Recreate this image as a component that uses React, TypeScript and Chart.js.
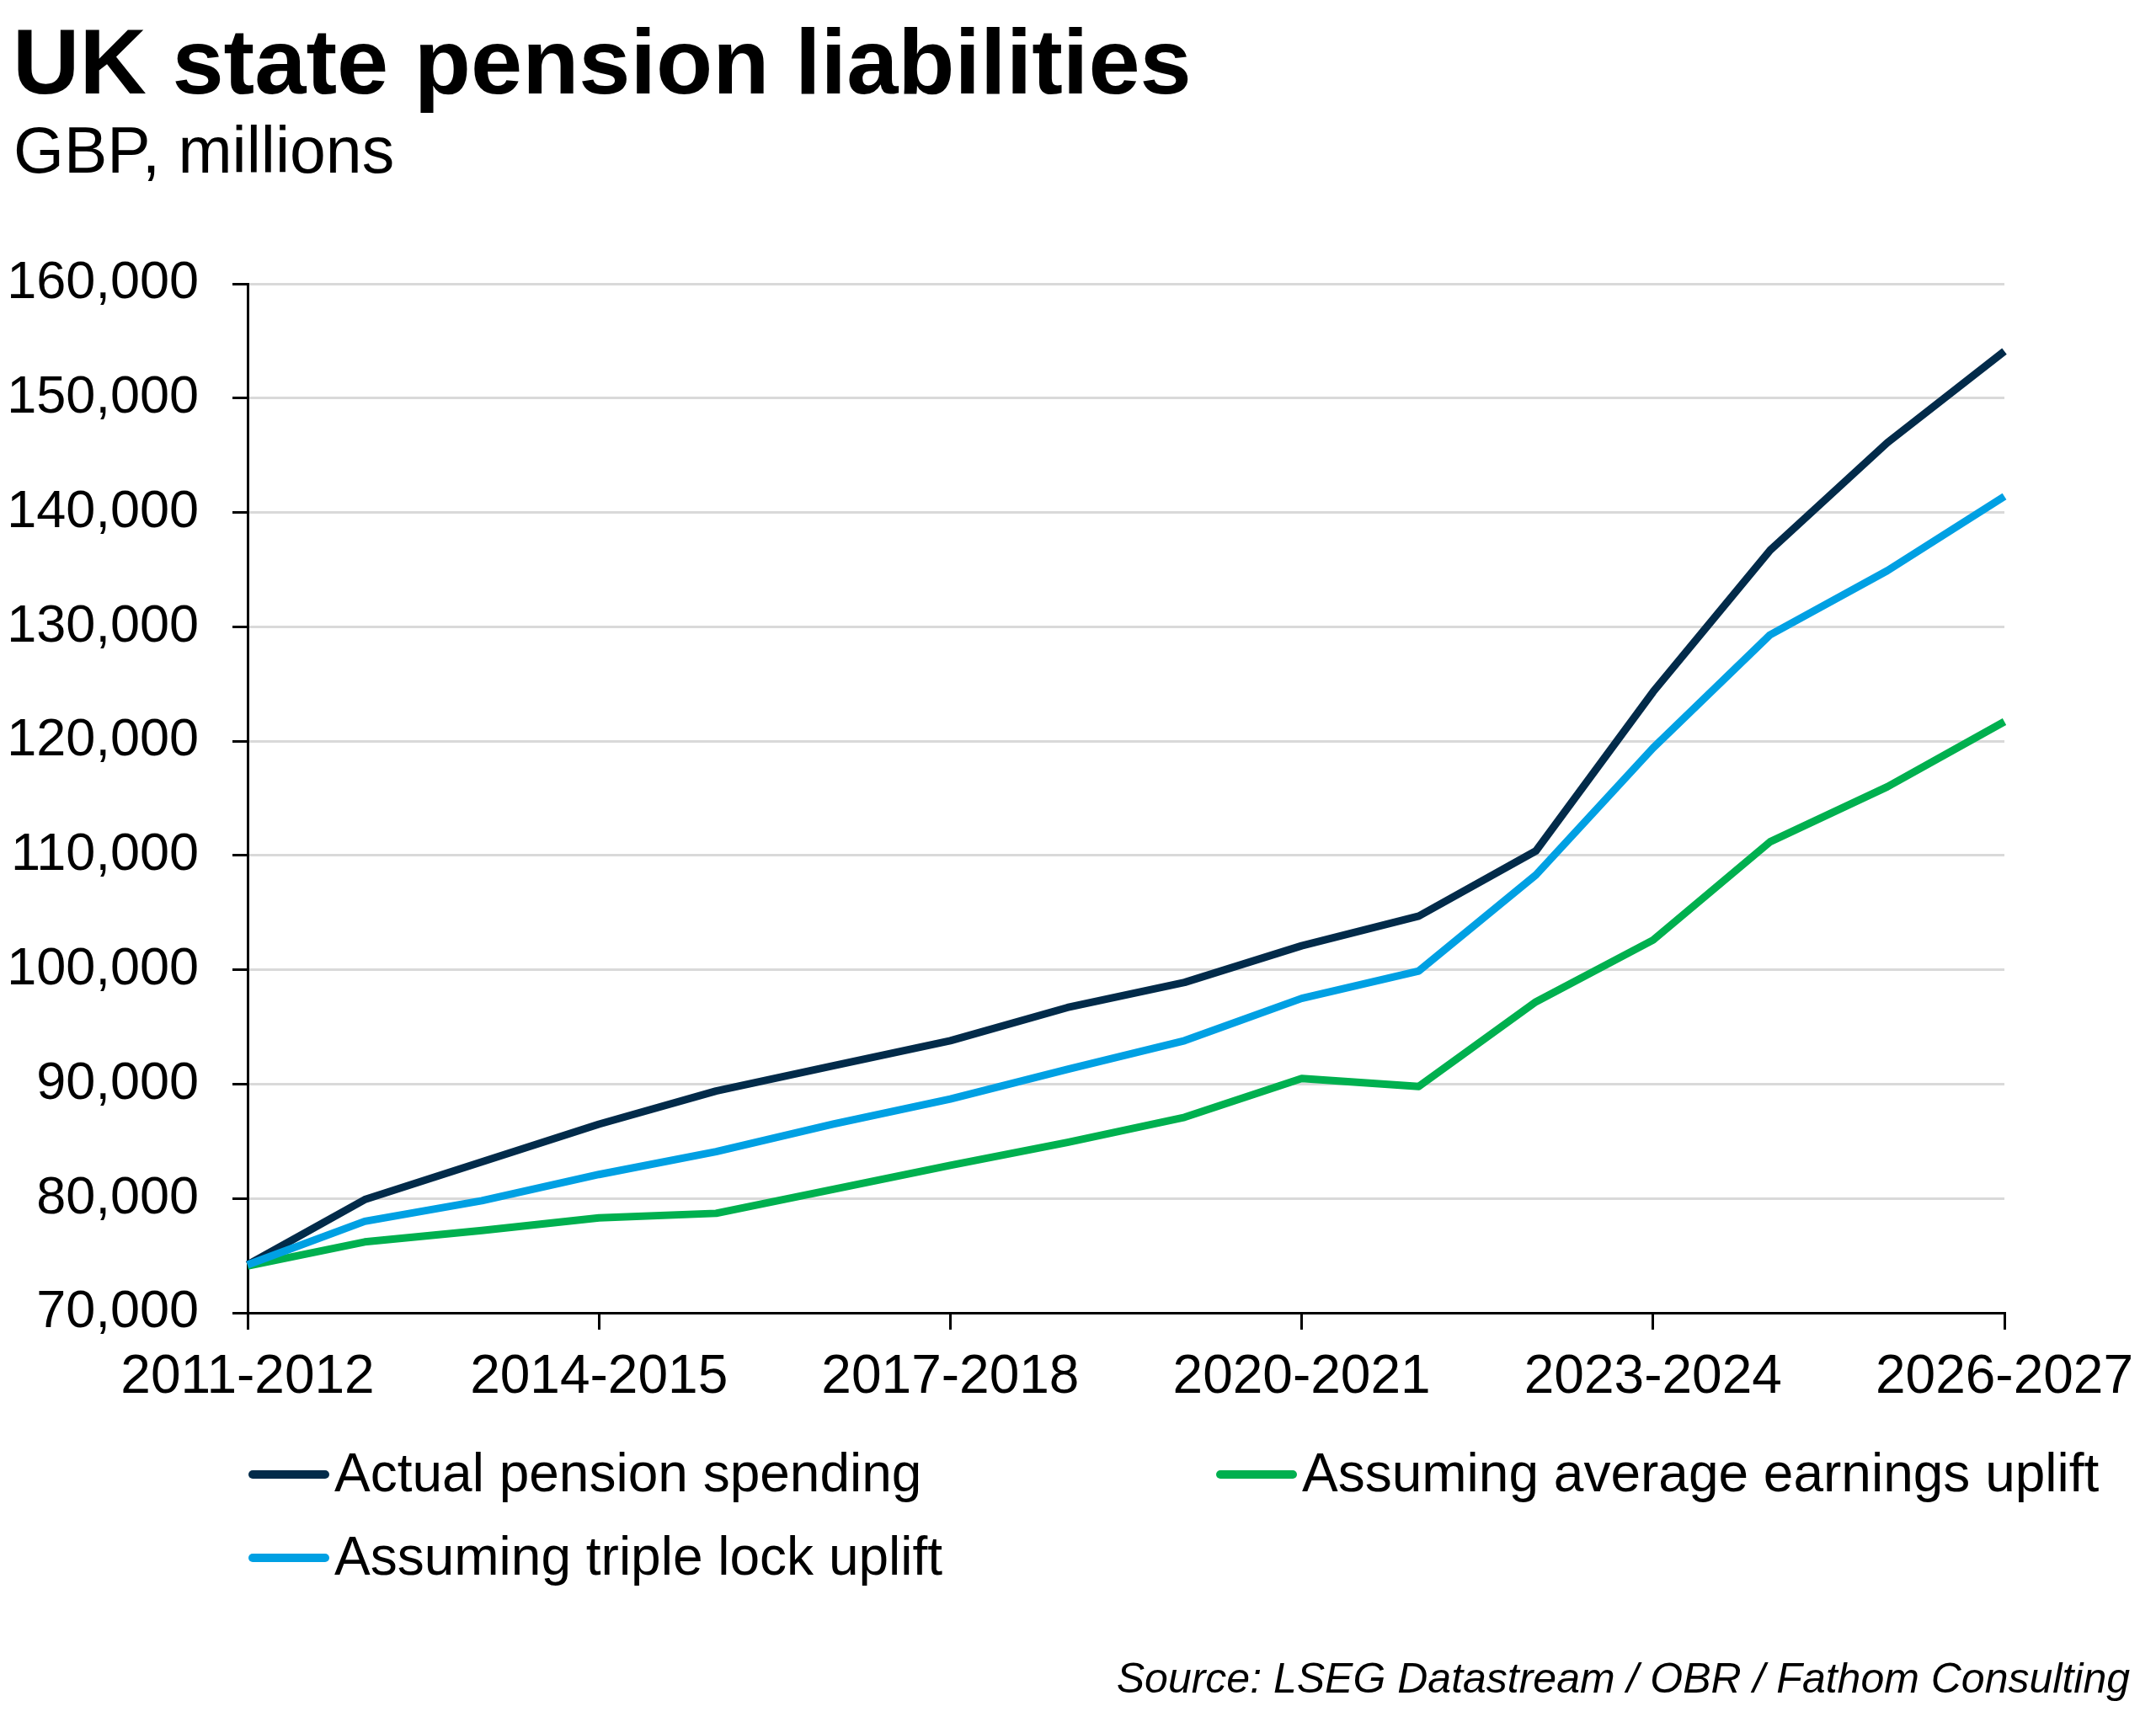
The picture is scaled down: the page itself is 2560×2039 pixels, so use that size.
import React, { useEffect, useRef } from 'react';
import { Chart, registerables } from 'chart.js';

Chart.register(...registerables);

const categories = [
  '2011-2012', '2012-2013', '2013-2014', '2014-2015', '2015-2016', '2016-2017',
  '2017-2018', '2018-2019', '2019-2020', '2020-2021', '2021-2022', '2022-2023',
  '2023-2024', '2024-2025', '2025-2026', '2026-2027',
];

const actualSpending = [
  74200, 79900, 83200, 86500, 89400, 91600, 93800, 96700,
  98900, 102100, 104700, 110400, 124300, 136700, 146100, 154100,
];

const tripleLockUplift = [
  74200, 78000, 79800, 82100, 84100, 86500, 88700, 91300,
  93800, 97500, 99900, 108300, 119400, 129300, 134900, 141400,
];

const averageEarningsUplift = [
  74100, 76200, 77200, 78300, 78700, 80800, 82900, 84900,
  87100, 90500, 89800, 97200, 102600, 111200, 116000, 121700,
];

const yMin = 70000;
const yMax = 160000;
const yStep = 10000;
const labelEvery = 3;

const seriesNames = {
  actual: 'Actual pension spending',
  earnings: 'Assuming average earnings uplift',
  triple: 'Assuming triple lock uplift',
};

const COLORS = {
  actual: '#022b4a',
  earnings: '#00b04f',
  triple: '#00a0e3',
};

const FONT = '"Liberation Sans", Arial, Helvetica, sans-serif';

function LegendItem({ color, label, left, baseline }: { color: string; label: string; left: number; baseline: number }) {
  const fs = 64;
  return (
    <>
      <div
        style={{
          position: 'absolute',
          left,
          top: baseline - 20 - 5,
          width: 96,
          height: 10,
          borderRadius: 5,
          background: color,
        }}
      />
      <div
        style={{
          position: 'absolute',
          left: left + 102,
          top: baseline - Math.round(0.8465 * fs),
          fontFamily: FONT,
          fontSize: fs,
          lineHeight: `${fs}px`,
          color: '#000',
          whiteSpace: 'nowrap',
        }}
      >
        {label}
      </div>
    </>
  );
}

export default function App() {
  const canvasRef = useRef<HTMLCanvasElement>(null);

  useEffect(() => {
    document.body.style.margin = '0';
    const canvas = canvasRef.current;
    if (!canvas) return;
    const chart = new Chart(canvas, {
      type: 'line',
      data: {
        labels: categories,
        datasets: [
          {
            label: seriesNames.triple,
            data: tripleLockUplift,
            borderColor: COLORS.triple,
            backgroundColor: COLORS.triple,
          },
          {
            label: seriesNames.earnings,
            data: averageEarningsUplift,
            borderColor: COLORS.earnings,
            backgroundColor: COLORS.earnings,
          },
          {
            label: seriesNames.actual,
            data: actualSpending,
            borderColor: COLORS.actual,
            backgroundColor: COLORS.actual,
          },
        ],
      },
      options: {
        responsive: false,
        animation: false,
        devicePixelRatio: 1,
        layout: { padding: { left: 0, right: 180, top: 337, bottom: 0 } },
        plugins: {
          legend: { display: false },
          tooltip: { enabled: false },
          title: { display: false },
        },
        elements: {
          point: { radius: 0, hoverRadius: 0 },
          line: { borderWidth: 9, tension: 0, borderJoinStyle: 'round', borderCapStyle: 'butt', fill: false },
        },
        scales: {
          x: {
            type: 'category',
            offset: false,
            grid: {
              display: true,
              drawOnChartArea: false,
              drawTicks: true,
              tickLength: 20,
              tickWidth: 3,
              lineWidth: 3,
              color: 'rgba(0,0,0,0)',
              tickColor: (ctx: any) => (ctx.index % labelEvery === 0 ? '#000' : 'rgba(0,0,0,0)'),
            },
            border: { display: true, color: '#000', width: 3 },
            ticks: {
              autoSkip: false,
              maxRotation: 0,
              minRotation: 0,
              padding: 19,
              color: '#000',
              font: { family: FONT, size: 64 },
              callback: (_v: any, idx: number) => (idx % labelEvery === 0 ? categories[idx] : ''),
            },
            afterFit: (scale: any) => {
              scale.height = 141;
            },
          },
          y: {
            type: 'linear',
            min: yMin,
            max: yMax,
            grid: {
              display: true,
              color: '#d9d9d9',
              lineWidth: 3,
              drawTicks: true,
              tickLength: 18,
              tickWidth: 3,
              tickColor: '#000',
            },
            border: { display: true, color: '#000', width: 3 },
            ticks: {
              stepSize: yStep,
              padding: 40,
              color: '#000',
              font: { family: FONT, size: 63 },
              callback: (v: any) => Number(v).toLocaleString('en-US'),
            },
            afterFit: (scale: any) => {
              scale.width = 294;
            },
          },
        },
      },
    });
    return () => chart.destroy();
  }, []);

  return (
    <div style={{ position: 'relative', width: 2560, height: 2039, background: '#fff', overflow: 'hidden' }}>
      <div
        style={{
          position: 'absolute',
          left: 15,
          top: 18,
          fontFamily: FONT,
          fontWeight: 'bold',
          fontSize: 110,
          lineHeight: '110px',
          color: '#000',
          whiteSpace: 'nowrap',
        }}
      >
        UK state pension liabilities
      </div>
      <div
        style={{
          position: 'absolute',
          left: 16,
          top: 140,
          fontFamily: FONT,
          fontSize: 77,
          lineHeight: '77px',
          color: '#000',
          whiteSpace: 'nowrap',
        }}
      >
        GBP, millions
      </div>
      <canvas
        ref={canvasRef}
        width={2560}
        height={1700}
        style={{ position: 'absolute', left: 0, top: 0, width: 2560, height: 1700 }}
      />
      <LegendItem color={COLORS.actual} label={seriesNames.actual} left={295} baseline={1771} />
      <LegendItem color={COLORS.earnings} label={seriesNames.earnings} left={1444} baseline={1771} />
      <LegendItem color={COLORS.triple} label={seriesNames.triple} left={295} baseline={1870} />
      <div
        style={{
          position: 'absolute',
          right: 31,
          top: 2010 - 42,
          fontFamily: FONT,
          fontStyle: 'italic',
          fontSize: 50,
          lineHeight: '50px',
          color: '#000',
          whiteSpace: 'nowrap',
        }}
      >
        Source: LSEG Datastream / OBR / Fathom Consulting
      </div>
    </div>
  );
}
